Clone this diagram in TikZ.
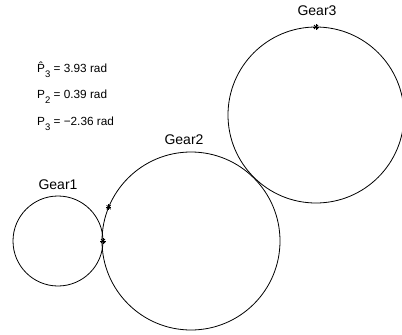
\documentclass[tikz,border=0pt]{standalone}
\usepackage{fontspec}
\setmainfont{Liberation Sans}
\newcommand{\legsub}[1]{\raisebox{-0.4em}{\fontsize{9.5}{9.5}\selectfont #1}}
\tikzset{
  gear/.style={draw=black, line width=0.8pt},
  gearlabel/.style={font=\fontsize{14}{14}\selectfont, inner sep=0pt},
  legend/.style={font=\fontsize{11.8}{11.8}\selectfont, inner sep=0pt, anchor=west},
  star/.style={line width=0.8pt}
}
\newcommand{\astmark}[1]{%
  \draw[star] ($(#1)+(-2.8,0)$) -- ($(#1)+(2.8,0)$);
  \draw[star] ($(#1)+(0,-2.8)$) -- ($(#1)+(0,2.8)$);
  \draw[star] ($(#1)+(-2,-2)$) -- ($(#1)+(2,2)$);
  \draw[star] ($(#1)+(-2,2)$) -- ($(#1)+(2,-2)$);
}
\usetikzlibrary{calc}
\begin{document}
\begin{tikzpicture}[x=1pt,y=-1pt]
\useasboundingbox (0,0) rectangle (402,335);
\clip (0,0) rectangle (402,335);
% gears
\coordinate (c1) at (58,241);
\coordinate (c2) at (191,241);
\coordinate (c3) at (316,115);
\draw[gear] (c1) circle[radius=45];
\draw[gear] (c2) circle[radius=89];
\draw[gear] (c3) circle[radius=88];
% marker points
\coordinate (m1) at ($(c1)+(45,0)$);
\coordinate (m2) at ($(c2)+({-89*cos(22.3)},{-89*sin(22.3)})$);
\coordinate (m3) at ($(c3)+(0,-88)$);
\astmark{m1}
\astmark{m2}
\astmark{m3}
% labels
\node[gearlabel] (g1) at (58,185) {Gear1};
\node[gearlabel] (g2) at (184,140) {Gear2};
\node[gearlabel] (g3) at (317,11) {Gear3};
% legend
\node[legend] (l1) at (37,70) {\^{P}\legsub{3} = 3.93 rad};
\node[legend] (l2) at (37,97) {P\legsub{2} = 0.39 rad};
\node[legend] (l3) at (37,124) {P\legsub{3} = −2.36 rad};
\end{tikzpicture}
\end{document}
